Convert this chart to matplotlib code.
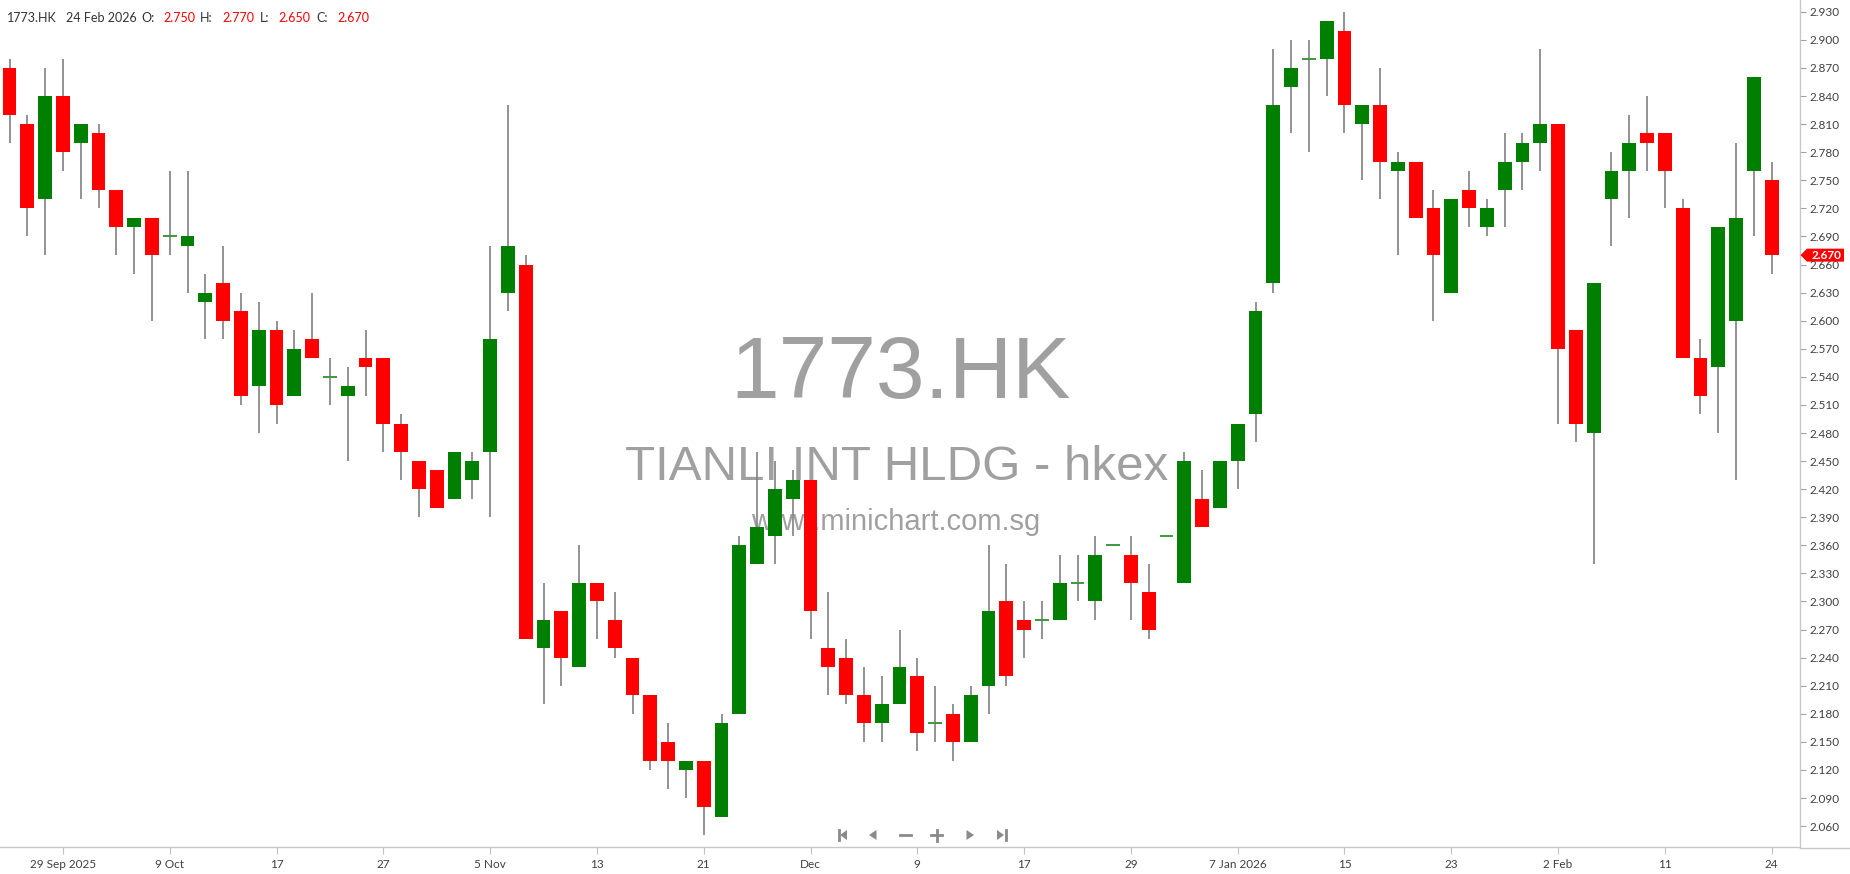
import matplotlib
matplotlib.use("Agg")
import matplotlib.pyplot as plt
from matplotlib.patches import Polygon
import numpy as np

# ---------------- data ----------------
symbol = "1773.HK"
name_text = "TIANLI INT HLDG - hkex"
site_text = "www.minichart.com.sg"
last_date = "24 Feb 2026"

opens = [2.87, 2.81, 2.73, 2.84, 2.79, 2.80, 2.74, 2.70, 2.71, 2.69,
         2.68, 2.62, 2.64, 2.61, 2.53, 2.59, 2.52, 2.58, 2.54, 2.52,
         2.56, 2.56, 2.49, 2.45, 2.44, 2.41, 2.43, 2.46, 2.63, 2.66,
         2.25, 2.29, 2.23, 2.32, 2.28, 2.24, 2.20, 2.15, 2.12, 2.13,
         2.07, 2.18, 2.34, 2.37, 2.41, 2.43, 2.25, 2.24, 2.20, 2.17,
         2.19, 2.22, 2.17, 2.18, 2.15, 2.21, 2.30, 2.28, 2.28, 2.28,
         2.32, 2.30, 2.36, 2.35, 2.31, 2.37, 2.32, 2.41, 2.40, 2.45,
         2.50, 2.64, 2.85, 2.88, 2.88, 2.91, 2.81, 2.83, 2.76, 2.77,
         2.72, 2.63, 2.74, 2.70, 2.74, 2.77, 2.79, 2.81, 2.59, 2.48,
         2.73, 2.76, 2.80, 2.80, 2.72, 2.56, 2.55, 2.60, 2.76, 2.75]
highs = [2.88, 2.82, 2.87, 2.88, 2.81, 2.81, 2.74, 2.71, 2.71, 2.76,
         2.76, 2.65, 2.68, 2.63, 2.62, 2.60, 2.59, 2.63, 2.56, 2.55,
         2.59, 2.56, 2.50, 2.45, 2.44, 2.46, 2.46, 2.68, 2.83, 2.67,
         2.32, 2.29, 2.36, 2.32, 2.31, 2.24, 2.20, 2.17, 2.13, 2.13,
         2.18, 2.37, 2.46, 2.45, 2.44, 2.43, 2.31, 2.26, 2.23, 2.22,
         2.27, 2.24, 2.21, 2.19, 2.21, 2.36, 2.34, 2.30, 2.30, 2.35,
         2.35, 2.37, 2.36, 2.37, 2.34, 2.37, 2.46, 2.44, 2.45, 2.49,
         2.62, 2.89, 2.90, 2.90, 2.92, 2.93, 2.83, 2.87, 2.78, 2.77,
         2.74, 2.73, 2.76, 2.73, 2.80, 2.80, 2.89, 2.81, 2.59, 2.64,
         2.78, 2.82, 2.84, 2.80, 2.73, 2.58, 2.70, 2.79, 2.86, 2.77]
lows = [2.79, 2.69, 2.67, 2.76, 2.73, 2.72, 2.67, 2.65, 2.60, 2.67,
        2.63, 2.58, 2.58, 2.51, 2.48, 2.49, 2.52, 2.56, 2.51, 2.45,
        2.52, 2.46, 2.43, 2.39, 2.40, 2.41, 2.41, 2.39, 2.61, 2.26,
        2.19, 2.21, 2.23, 2.26, 2.24, 2.18, 2.12, 2.10, 2.09, 2.05,
        2.07, 2.18, 2.34, 2.34, 2.37, 2.26, 2.20, 2.19, 2.15, 2.15,
        2.19, 2.14, 2.15, 2.13, 2.15, 2.18, 2.21, 2.24, 2.26, 2.28,
        2.30, 2.28, 2.36, 2.28, 2.26, 2.37, 2.32, 2.38, 2.40, 2.42,
        2.47, 2.63, 2.80, 2.78, 2.84, 2.80, 2.75, 2.73, 2.67, 2.71,
        2.60, 2.63, 2.70, 2.69, 2.70, 2.74, 2.76, 2.49, 2.47, 2.34,
        2.68, 2.71, 2.76, 2.72, 2.56, 2.50, 2.48, 2.43, 2.69, 2.65]
closes = [2.82, 2.72, 2.84, 2.78, 2.81, 2.74, 2.70, 2.71, 2.67, 2.69,
          2.69, 2.63, 2.60, 2.52, 2.59, 2.51, 2.57, 2.56, 2.54, 2.53,
          2.55, 2.49, 2.46, 2.42, 2.40, 2.46, 2.45, 2.58, 2.68, 2.26,
          2.28, 2.24, 2.32, 2.30, 2.25, 2.20, 2.13, 2.13, 2.13, 2.08,
          2.17, 2.36, 2.38, 2.42, 2.43, 2.29, 2.23, 2.20, 2.17, 2.19,
          2.23, 2.16, 2.17, 2.15, 2.20, 2.29, 2.22, 2.27, 2.28, 2.32,
          2.32, 2.35, 2.36, 2.32, 2.27, 2.37, 2.45, 2.38, 2.45, 2.49,
          2.61, 2.83, 2.87, 2.88, 2.92, 2.83, 2.83, 2.77, 2.77, 2.71,
          2.67, 2.73, 2.72, 2.72, 2.77, 2.79, 2.81, 2.57, 2.49, 2.64,
          2.76, 2.79, 2.79, 2.76, 2.56, 2.52, 2.70, 2.71, 2.86, 2.67]

tick_labels = ["29 Sep 2025", "9 Oct", "17", "27", "5 Nov", "13", "21", "Dec",
               "9", "17", "29", "7 Jan 2026", "15", "23", "2 Feb", "11", "24"]
first_tick = 3
tick_step = 6

price_ticks_min, price_ticks_max, price_tick_step = 2.060, 2.930, 0.030

# ---------------- style ----------------
GREEN = "#008000"
RED = "#FF0000"
WICK = "#808080"
AXIS_LINE = "#C8C8C8"
LABEL = "#404040"
WM = "#A0A0A0"

W, H = 1850, 874
fig = plt.figure(figsize=(W / 100, H / 100), dpi=100)
fig.patch.set_facecolor("white")

ax = fig.add_axes([0, 27 / H, 1800 / W, 847 / H])
ax.set_facecolor("white")

o = np.array(opens); h = np.array(highs); l = np.array(lows); c = np.array(closes)
x = np.arange(len(o))
up = c > o
dn = c < o
dj = c == o

ax.vlines(x, l, h, color=WICK, linewidth=1.2, zorder=2)
bw = 0.77
ax.bar(x[up], (c - o)[up], bottom=o[up], width=bw, color=GREEN, linewidth=0, zorder=3)
ax.bar(x[dn], (o - c)[dn], bottom=c[dn], width=bw, color=RED, linewidth=0, zorder=3)
ax.hlines(o[dj], x[dj] - bw / 2, x[dj] + bw / 2, color="#3c9a3c", linewidth=1.4, zorder=3)

ax.set_xlim(-0.534, 100.59)
ax.set_ylim(2.0377, 2.9426)

# axes styling
for s in ["top", "left"]:
    ax.spines[s].set_visible(False)
ax.spines["right"].set_color(AXIS_LINE)
ax.spines["bottom"].set_color(AXIS_LINE)
ax.spines["right"].set_linewidth(1.0)
ax.spines["bottom"].set_linewidth(1.0)

yt = np.round(np.arange(price_ticks_min, price_ticks_max + 1e-9, price_tick_step), 3)
ax.yaxis.tick_right()
ax.set_yticks(yt)
ax.set_yticklabels([f"{v:.3f}" for v in yt])
ax.tick_params(axis="y", direction="out", length=4, width=0.8, color="#A0A0A0",
               pad=3, labelsize=8.5, labelcolor=LABEL)

xt = np.arange(first_tick, len(o), tick_step)
ax.set_xticks(xt)
ax.set_xticklabels(tick_labels)
ax.tick_params(axis="x", direction="out", length=5, width=0.8, color="#C0C0C0",
               pad=4, labelsize=8.5, labelcolor=LABEL)
for t in ax.get_xticklabels() + ax.get_yticklabels():
    t.set_fontfamily("Lato")

# watermark (baseline-anchored)
ax.text(0.5004, 0.530, symbol, transform=ax.transAxes, ha="center", va="baseline",
        fontsize=63, color=WM, family="Liberation Sans", zorder=1)
ax.text(0.4983, 0.4335, name_text, transform=ax.transAxes, ha="center", va="baseline",
        fontsize=35.5, color=WM, family="Liberation Sans", zorder=1)
ax.text(0.4978, 0.3745, site_text, transform=ax.transAxes, ha="center", va="baseline",
        fontsize=21, color=WM, family="Liberation Sans", zorder=1)

# ---------------- overlay (pixel coords) ----------------
ui = fig.add_axes([0, 0, 1, 1], zorder=5)
ui.set_xlim(0, W)
ui.set_ylim(H, 0)
ui.axis("off")
ui.patch.set_alpha(0)

# full-width bottom line
ui.plot([1800, W], [847.5, 847.5], color=AXIS_LINE, linewidth=1.0)

# header
hdr_y = 18
hdr = [(6.5, symbol, "#333333"), (66, last_date, "#333333"),
       (141, "O:", "#333333"), (163, f"{opens[-1]:.3f}", RED),
       (200, "H:", "#333333"), (222, f"{highs[-1]:.3f}", RED),
       (260, "L:", "#333333"), (278, f"{lows[-1]:.3f}", RED),
       (316, "C:", "#333333"), (337, f"{closes[-1]:.3f}", RED)]
for hx, txt, col in hdr:
    ui.text(hx, hdr_y, txt, ha="left", va="center", fontsize=9, color=col, family="Lato")

# last price marker
y_disp = ax.transData.transform((0, closes[-1]))[1]
yp = H - y_disp
poly = Polygon([[1800.5, yp], [1807, yp - 6.5], [1844, yp - 6.5], [1844, yp + 6.5], [1807, yp + 6.5]],
               closed=True, facecolor=RED, edgecolor="none")
ui.add_patch(poly)
ui.text(1826, yp, f"{closes[-1]:.3f}", ha="center", va="center", fontsize=8.5,
        color="white", family="Lato", fontweight="bold")

# navigation buttons
nav_y = 835
nc = "#8a8a8a"
ui.plot([838.5, 838.5], [nav_y - 5, nav_y + 5], color=nc, linewidth=2)
ui.add_patch(Polygon([[840, nav_y], [847, nav_y - 5], [847, nav_y + 5]], closed=True, facecolor=nc, edgecolor="none"))
ui.add_patch(Polygon([[869, nav_y], [876.5, nav_y - 5], [876.5, nav_y + 5]], closed=True, facecolor=nc, edgecolor="none"))
ui.plot([900, 911], [nav_y, nav_y], color=nc, linewidth=2)
ui.plot([931, 942], [nav_y, nav_y], color=nc, linewidth=2)
ui.plot([936.5, 936.5], [nav_y - 5.5, nav_y + 5.5], color=nc, linewidth=2)
ui.add_patch(Polygon([[974, nav_y], [966.5, nav_y - 5], [966.5, nav_y + 5]], closed=True, facecolor=nc, edgecolor="none"))
ui.add_patch(Polygon([[1004, nav_y], [997, nav_y - 5], [997, nav_y + 5]], closed=True, facecolor=nc, edgecolor="none"))
ui.plot([1005.5, 1005.5], [nav_y - 5, nav_y + 5], color=nc, linewidth=2)

fig.savefig("out.png", dpi=100, facecolor="white")
